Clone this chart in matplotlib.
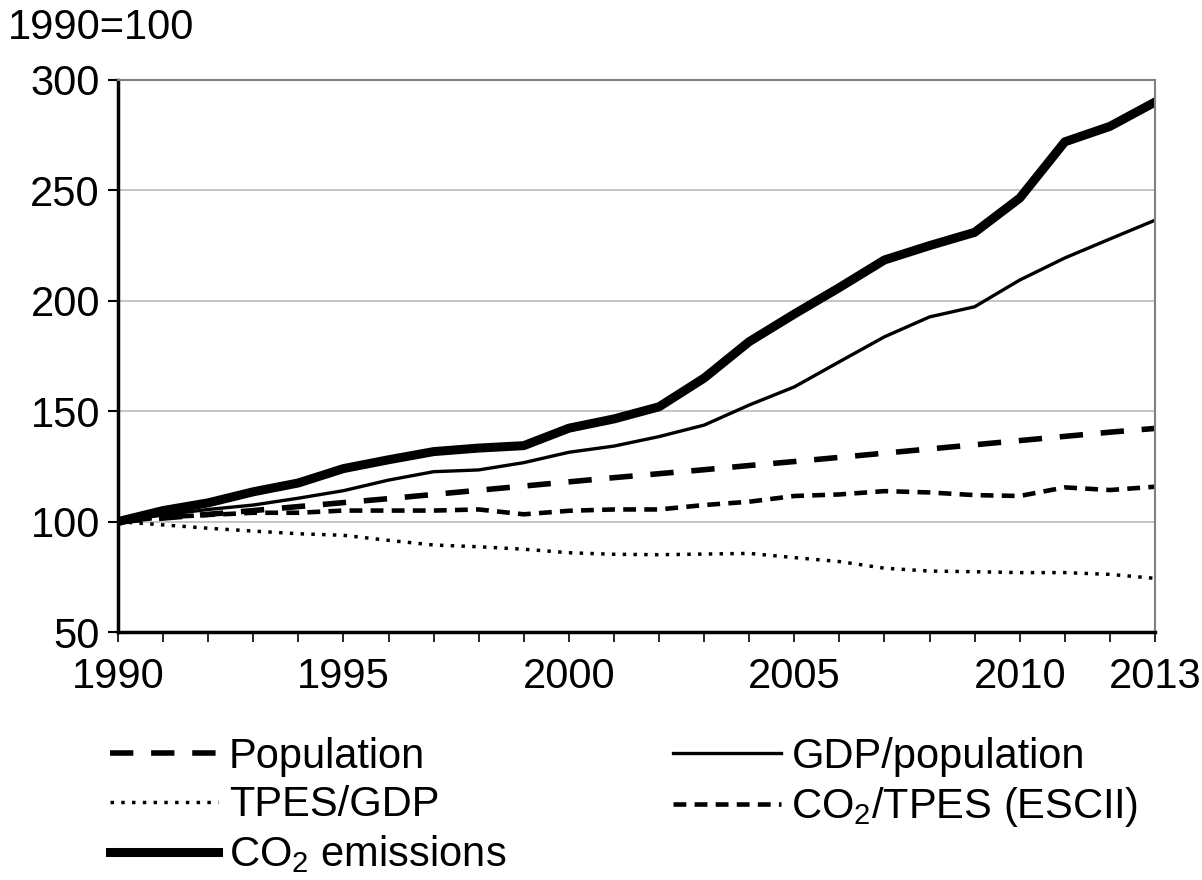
import numpy as np
import matplotlib
matplotlib.use("Agg")
from matplotlib import pyplot as plt

plt.rcParams['font.family'] = ['Liberation Sans', 'DejaVu Sans']
plt.rcParams['mathtext.fontset'] = 'custom'
plt.rcParams['mathtext.rm'] = 'Liberation Sans'
plt.rcParams['mathtext.it'] = 'Liberation Sans:italic'
plt.rcParams['font.size'] = 30

# Index values, 1990 = 100
years = np.arange(1990, 2014)
population = [100, 101.6, 103.3, 105, 106.8, 108.6, 110.4, 112.3, 114.2, 116.1, 118, 119.9,
              121.7, 123.5, 125.4, 127.2, 129.1, 131, 132.9, 134.8, 136.7, 138.6, 140.5, 142.2]
gdp_per_pop = [100, 103, 105.5, 107.5, 110.6, 114, 118.8, 122.6, 123.4, 126.7, 131.4, 134.2,
               138.5, 143.7, 152.8, 161, 172.4, 183.7, 192.7, 197.3, 209.4, 219.4, 228, 236.5]
tpes_per_gdp = [100, 98.5, 97, 95.7, 94.5, 93.8, 91.5, 89.4, 88.6, 87.5, 85.9, 85.2,
                85, 85.3, 85.6, 83.7, 81.9, 78.9, 77.6, 77.3, 76.9, 76.9, 76.1, 74.3]
co2_per_tpes = [100, 102, 103, 104, 104, 105, 105, 105, 105.5, 103.3, 104.9, 105.5,
                105.5, 107.5, 109, 111.6, 112.3, 113.8, 113.2, 112, 111.6, 115.5, 114.3, 115.8]
co2_emissions = [100, 105, 108.5, 113.5, 117.5, 124, 128, 131.7, 133.3, 134.4, 142.3, 146.5,
                 152, 165, 181.5, 194, 206, 218.5, 225, 231, 246.5, 272, 279, 290]

xtick_labels = ['1990', '1995', '2000', '2005', '2010', '2013']

fig = plt.figure(figsize=(12.02, 8.8), dpi=100)
ax = fig.add_axes([118/1202, 1 - 632/880, (1155 - 118)/1202, (632 - 80)/880])

l_pop, = ax.plot(years, population, color='black', lw=4.0, dashes=(4.2, 3.2), label='Population')
l_gdp, = ax.plot(years, gdp_per_pop, color='black', lw=2.4, label='GDP/population')
l_tpes, = ax.plot(years, tpes_per_gdp, color='black', lw=2.5, dashes=(1, 2.1), label='TPES/GDP')
l_ci, = ax.plot(years, co2_per_tpes, color='black', lw=3.3, dashes=(2.8, 1.8), label='CO$_2$/TPES (ESCII)')
l_co2, = ax.plot(years, co2_emissions, color='black', lw=6.5, label='CO$_2$ emissions')

ax.set_xlim(1990, 2013)
ax.set_ylim(50, 300)
ax.set_yticks([50, 100, 150, 200, 250, 300])
ax.set_xticks(years)
ax.set_xticklabels([str(y) if str(y) in xtick_labels else '' for y in years])
ax.yaxis.grid(True, color='#c0c0c0', lw=1.3)
ax.set_axisbelow(True)

for s in ['top', 'right']:
    ax.spines[s].set_color('#808080')
    ax.spines[s].set_linewidth(1.5)
for s in ['left', 'bottom']:
    ax.spines[s].set_color('black')
    ax.spines[s].set_linewidth(2.5)

ax.tick_params(axis='y', direction='out', length=7, width=1.5, pad=6)
ax.tick_params(axis='x', direction='out', length=7, width=1.2, pad=11)

fig.text(8/1202, 1 - 28/880, '1990=100', ha='left', va='center')

handles = [l_pop, l_tpes, l_co2, l_gdp, l_ci]
fig.legend(handles, [h.get_label() for h in handles], ncol=2, frameon=False,
           loc='upper left', bbox_to_anchor=(110/1202, 1 - 737/880),
           borderaxespad=0, borderpad=0, handlelength=2.6, handletextpad=0.25,
           columnspacing=4.0, labelspacing=0.2)

fig.savefig('out.png', dpi=100)
